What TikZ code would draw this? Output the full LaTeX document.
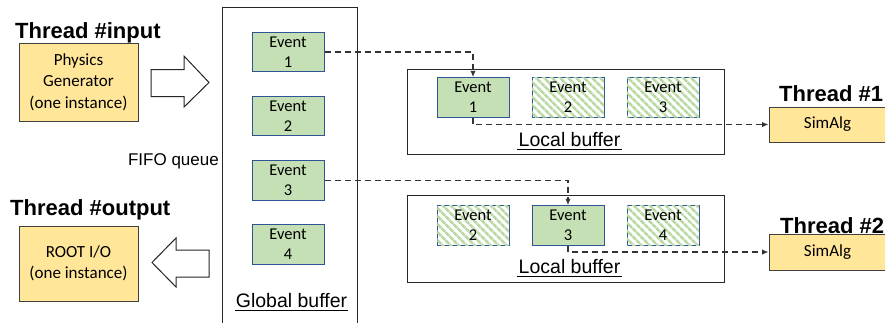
\documentclass[tikz,border=0pt]{standalone}
\usepackage{fontspec}
\setmainfont{Carlito}
\newfontfamily\arialfont{Liberation Sans}
\usetikzlibrary{arrows.meta,patterns.meta}

\definecolor{evgreen}{HTML}{C5E0B4}
\definecolor{evstripe}{HTML}{B8D9A2}
\definecolor{evborder}{HTML}{2F5597}
\definecolor{thrfill}{HTML}{FFE699}
\definecolor{thrborder}{HTML}{404040}
\definecolor{linkgray}{HTML}{333333}

\tikzset{
  event/.style={draw=evborder, line width=1pt, fill=evgreen,
    minimum width=72pt, minimum height=39.5pt, inner sep=0pt,
    align=center, font=\fontsize{16.5}{20}\selectfont},
  eventhatch/.style={event, fill=white,
    postaction={pattern={Lines[angle=-45,distance=5.4pt,line width=2.7pt]},
      pattern color=evstripe}},
  thread/.style={draw=thrborder, line width=0.9pt, fill=thrfill,
    inner sep=0pt, align=center, font=\fontsize{17}{21.5}\selectfont},
  title/.style={anchor=base west, inner sep=0pt,
    font=\arialfont\bfseries\fontsize{22}{26}\selectfont},
  bufname/.style={anchor=base, inner sep=0pt,
    font=\arialfont\fontsize{19.5}{23}\selectfont},
  container/.style={draw=black!85, line width=1pt},
  link/.style={draw=linkgray, line width=1.6pt, dash pattern=on 6pt off 4pt,
    -{Latex[length=6.5pt,width=5.5pt]}},
  blockarrow/.style={draw=black!85, line width=1pt, fill=white, line join=miter}
}

\begin{document}
\begin{tikzpicture}[x=1pt,y=-1pt]
\useasboundingbox (0,0) rectangle (885,322);

% ---- input / output threads ----
\node[title] (tin) at (15,38) {Thread \#input};
\node[thread, minimum width=119pt, minimum height=78pt] (gen) at (78.5,82)
  {Physics\\Generator\\(one instance)};
\node[title] (tout) at (10,215) {Thread \#output};
\node[thread, minimum width=119pt, minimum height=75pt] (rootio) at (78.5,263.5)
  {ROOT I/O\\(one instance)};

% hollow block arrows into and out of the global buffer
\draw[blockarrow] (151,69.5) -- (184,69.5) -- (184,56) -- (209,82.5)
  -- (184,107) -- (184,96.5) -- (151,96.5) -- cycle;
\draw[blockarrow] (209,250) -- (176,250) -- (176,238) -- (152,262.5)
  -- (176,287) -- (176,277) -- (209,277) -- cycle;

% ---- global buffer (FIFO queue) ----
\draw[container] (222,330) -- (222,7) -- (357,7) -- (357,330);
\node[anchor=east, inner sep=0pt, font=\arialfont\fontsize{17}{20}\selectfont]
  (fifo) at (219,161) {FIFO queue};
\node[event] (g1) at (288,52) {Event\\1};
\node[event] (g2) at (288,116) {Event\\2};
\node[event] (g3) at (288,180.5) {Event\\3};
\node[event] (g4) at (288,244.5) {Event\\4};
\node[bufname] (gname) at (291.5,307) {Global buffer};
\draw[line width=1.6pt] (235,310.5) -- (348,310.5);

% ---- local buffer of thread #1 ----
\draw[container] (407,69) rectangle (724,154);
\node[event] (a1) at (473,97.5) {Event\\1};
\node[eventhatch] (a2) at (568,97.5) {Event\\2};
\node[eventhatch] (a3) at (663,97.5) {Event\\3};
\node[bufname] (lname1) at (569.5,146) {Local buffer};
\draw[line width=1.6pt] (517,149.5) -- (622,149.5);

% ---- local buffer of thread #2 ----
\draw[container] (407,195) rectangle (724,282);
\node[eventhatch] (b2) at (473,225.5) {Event\\2};
\node[event] (b3) at (568,225.5) {Event\\3};
\node[eventhatch] (b4) at (663,225.5) {Event\\4};
\node[bufname] (lname2) at (569.5,273) {Local buffer};
\draw[line width=1.6pt] (517,276.5) -- (622,276.5);

% ---- worker threads ----
\node[title] (t1) at (779,101) {Thread \#1};
\node[thread, minimum width=117pt, minimum height=35pt] (sim1) at (827.5,124.5) {SimAlg};
\node[title] (t2) at (780,233) {Thread \#2};
\node[thread, minimum width=117pt, minimum height=36pt] (sim2) at (827.5,252) {SimAlg};

% ---- event hand-over ----
\draw[link] (g1.east) -| (a1.north);
\draw[link] (a1.south) |- (sim1.west);
\draw[link] (g3.east) -| (b3.north);
\draw[link] (b3.south) |- (sim2.west);
\end{tikzpicture}
\end{document}
